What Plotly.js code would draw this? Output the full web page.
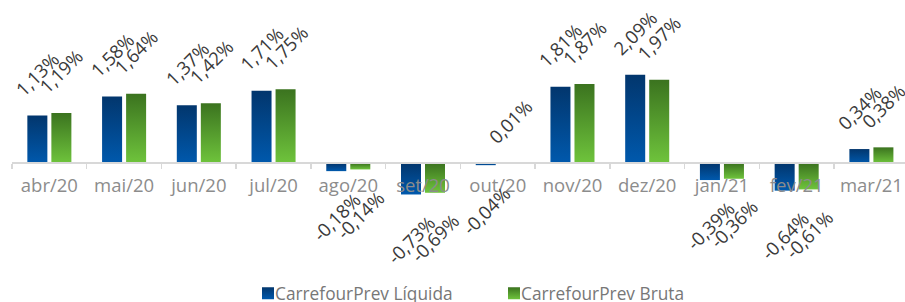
<!DOCTYPE html>
<html>
<head>
<meta charset="utf-8">
<script src="https://cdn.plot.ly/plotly-3.0.1.min.js"></script>
<style>html,body{margin:0;padding:0;background:#fff;}#chart{width:905px;height:302px;}</style>
</head>
<body>
<div id="chart"></div>
<script>
const categories = ['abr/20','mai/20','jun/20','jul/20','ago/20','set/20','out/20','nov/20','dez/20','jan/21','fev/21','mar/21'];
const liquida = [1.13, 1.58, 1.37, 1.71, -0.18, -0.73, -0.04, 1.81, 2.09, -0.39, -0.64, 0.34];
const bruta   = [1.19, 1.64, 1.42, 1.75, -0.14, -0.69, 0.01, 1.87, 1.97, -0.36, -0.61, 0.38];
const seriesNames = ['CarrefourPrev Líquida', 'CarrefourPrev Bruta'];
const seriesColors = ['#0250a0', '#5aa532'];

const fmt = v => v.toFixed(2).replace('.', ',') + '%';
const yRange = [-2.32, 3.85];
const FONT = 'Open Sans, Noto Sans, sans-serif';

const series = [liquida, bruta];
const traces = series.map((vals, i) => ({
  type: 'bar', name: seriesNames[i], x: categories, y: vals,
  marker: {color: seriesColors[i], line: {width: 0}},
  hoverinfo: 'none'
}));

const annotations = [];
series.forEach((vals, i) => {
  vals.forEach((v, j) => {
    annotations.push({
      x: categories[j], y: v, xref: 'x', yref: 'y',
      xshift: i === 0 ? -12 : 12,
      yshift: v >= 0 ? 42 : -45,
      text: fmt(v), textangle: -45, showarrow: false,
      xanchor: 'center', yanchor: 'middle',
      font: {family: FONT, size: 18.5, color: '#3a3a3a'}
    });
  });
});

const layout = {
  width: 905, height: 302,
  margin: {l: 12, r: 0, t: 0, b: 40},
  paper_bgcolor: '#ffffff', plot_bgcolor: '#ffffff',
  barmode: 'group', bargap: 0.357, bargroupgap: 0.167,
  showlegend: true,
  legend: {
    orientation: 'h', xref: 'paper', yref: 'container',
    x: (235 - 12) / 893, xanchor: 'left', y: 0.028, yanchor: 'middle',
    font: {family: FONT, size: 17.3, color: '#777777'},
    entrywidth: 201, entrywidthmode: 'pixels',
    itemclick: false, itemdoubleclick: false
  },
  xaxis: {
    type: 'category', range: [-0.5, 893 / 74.73 - 0.5],
    anchor: 'free', position: (0 - yRange[0]) / (yRange[1] - yRange[0]),
    showline: true, linecolor: '#d8d8d8', linewidth: 2,
    ticks: 'outside', tickson: 'boundaries', ticklen: 5, tickcolor: '#d8d8d8', tickwidth: 1.5,
    ticklabelstandoff: 5,
    tickfont: {family: FONT, size: 18.5, color: '#8c8c8c'},
    showgrid: false, zeroline: false, fixedrange: true
  },
  yaxis: {range: yRange, visible: false, showgrid: false, zeroline: false, fixedrange: true},
  annotations: annotations
};

Plotly.newPlot('chart', traces, layout, {displayModeBar: false, staticPlot: true}).then(gd => {
  const NS = 'http://www.w3.org/2000/svg';
  const svg = gd.querySelector('.main-svg');
  const defs = document.createElementNS(NS, 'defs');
  const grads = [['gradBlue', '#02366d', '#0059ad'], ['gradGreen', '#3b731f', '#6fc43c']];
  grads.forEach(([id, c1, c2]) => {
    const lg = document.createElementNS(NS, 'linearGradient');
    lg.setAttribute('id', id); lg.setAttribute('x1', '0'); lg.setAttribute('y1', '0');
    lg.setAttribute('x2', '0'); lg.setAttribute('y2', '1');
    [[0, c1], [1, c2]].forEach(([o, c]) => {
      const s = document.createElementNS(NS, 'stop');
      s.setAttribute('offset', o); s.setAttribute('stop-color', c);
      lg.appendChild(s);
    });
    defs.appendChild(lg);
  });
  svg.insertBefore(defs, svg.firstChild);
  gd.querySelectorAll('.barlayer .trace').forEach((t, i) => {
    t.querySelectorAll('path').forEach(p => { p.style.fill = 'url(#' + grads[i][0] + ')'; });
  });
  gd.querySelectorAll('.legend .traces').forEach((t, i) => {
    t.querySelectorAll('.legendpoints path').forEach(p => { p.style.fill = 'url(#' + grads[i][0] + ')'; });
    const lp = t.querySelector('.legendpoints');
    if (lp) lp.setAttribute('transform', 'translate(13,0)');
  });
});
</script>
</body>
</html>
